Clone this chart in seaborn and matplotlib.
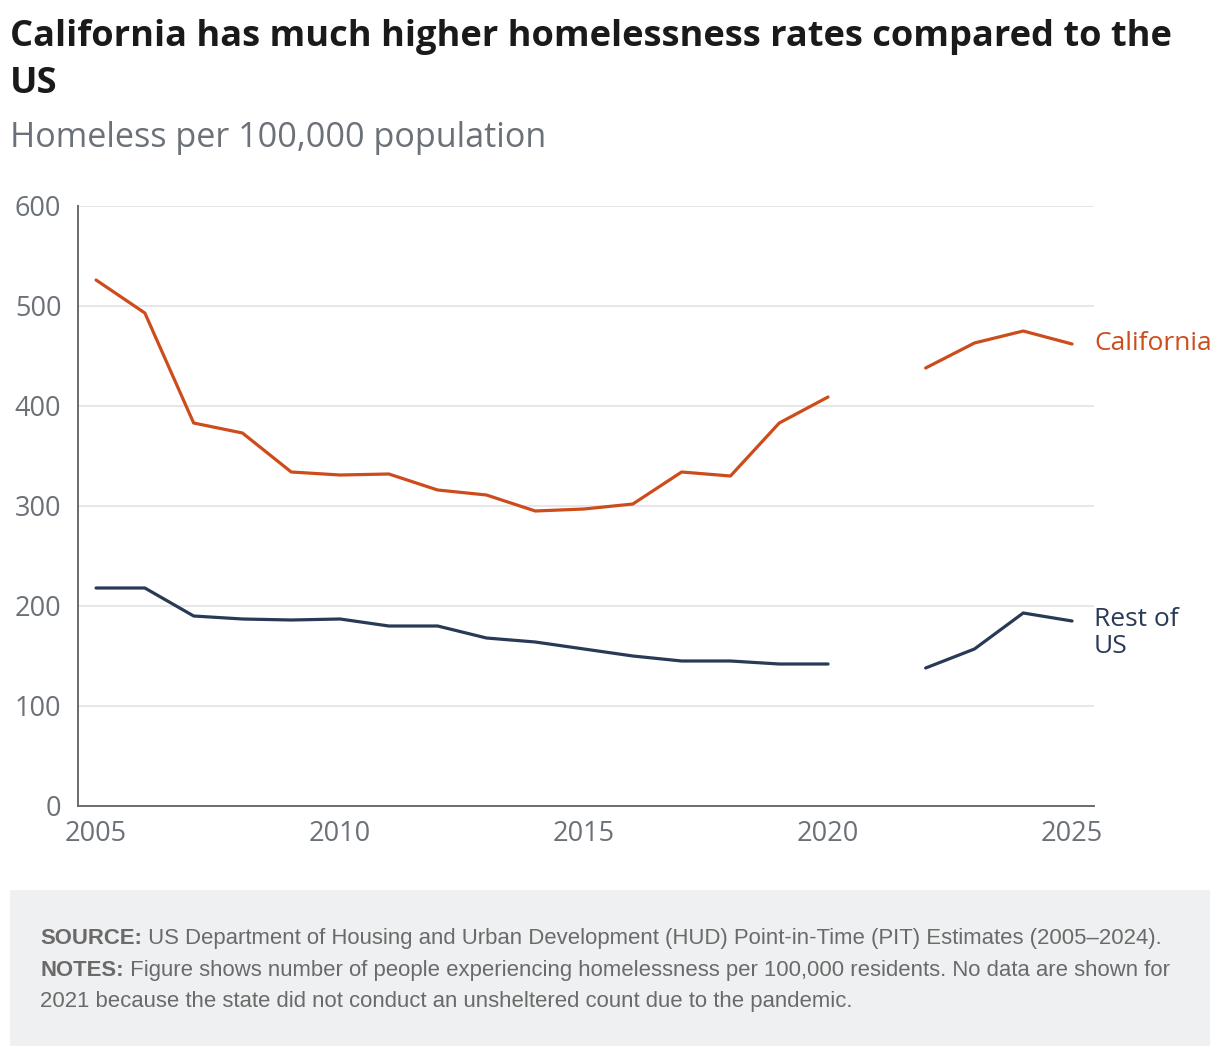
import matplotlib.pyplot as plt
import numpy as np
import pandas as pd
import seaborn as sns
from matplotlib.patches import Rectangle

# Data (no data for 2021)
years_before = [2005, 2006, 2007, 2008, 2009, 2010, 2011, 2012, 2013, 2014,
                2015, 2016, 2017, 2018, 2019, 2020]
years_after = [2022, 2023, 2024, 2025]

california_before = [526, 493, 383, 373, 334, 331, 332, 316, 311, 295,
                     297, 302, 334, 330, 383, 409]
california_after = [438, 463, 475, 462]

rest_before = [218, 218, 190, 187, 186, 187, 180, 180, 168, 164,
               157, 150, 145, 145, 142, 142]
rest_after = [138, 157, 193, 185]

x_ticks = [2005, 2010, 2015, 2020, 2025]
y_ticks = [0, 100, 200, 300, 400, 500, 600]

colors = {'California': '#cc4c1c', 'Rest of US': '#283a55'}
text_gray = '#6b7178'

# Long table, with a segment id so the 2021 gap stays open
frames = []
for name, before, after in [('California', california_before, california_after),
                            ('Rest of US', rest_before, rest_after)]:
    frames.append(pd.DataFrame({'year': years_before, 'value': before,
                                'series': name, 'segment': 'a'}))
    frames.append(pd.DataFrame({'year': years_after, 'value': after,
                                'series': name, 'segment': 'b'}))
df = pd.concat(frames, ignore_index=True)

sns.set_theme(style='white')
plt.rcParams['font.family'] = ['Open Sans', 'DejaVu Sans']

W, H = 1220, 1056
fig = plt.figure(figsize=(W / 100, H / 100), dpi=100)
ax = fig.add_axes([78 / W, 1 - 806 / H, (1094 - 78) / W, 600 / H])

sns.lineplot(data=df, x='year', y='value', hue='series', units='segment',
             estimator=None, palette=colors, linewidth=2.3, legend=False, ax=ax)

ax.set_xlim(2004.63, 2025.45)
ax.set_ylim(0, 600)
ax.set_xticks(x_ticks)
ax.set_yticks(y_ticks)
ax.set_xlabel('')
ax.set_ylabel('')
ax.tick_params(axis='both', length=0, labelsize=19.5, labelcolor=text_gray)
ax.tick_params(axis='y', pad=12)
ax.tick_params(axis='x', pad=10)

# Horizontal grid only
ax.yaxis.grid(True, color='#e3e3e3', linewidth=1.2)
ax.xaxis.grid(False)
ax.set_axisbelow(True)
for side in ['top', 'right']:
    ax.spines[side].set_visible(False)
for side in ['left', 'bottom']:
    ax.spines[side].set_color('#6b6b6b')
    ax.spines[side].set_linewidth(1.4)
    ax.spines[side].set_zorder(3)

# Direct labels at the line ends
ax.text(1.0, 462, 'California', transform=ax.get_yaxis_transform(),
        color=colors['California'], fontsize=19, va='center', ha='left')
ax.text(1.0, 173, 'Rest of\nUS', transform=ax.get_yaxis_transform(),
        color=colors['Rest of US'], fontsize=19, va='center', ha='left',
        linespacing=1.08)

# Title and subtitle
title_kw = dict(fontsize=26.1, fontweight='bold', color='#1a1a1a', ha='left', va='baseline')
fig.text(10 / W, 1 - 46 / H,
         'California has much higher homelessness rates compared to the', **title_kw)
fig.text(10 / W, 1 - 93 / H, 'US', **title_kw)
fig.text(10 / W, 1 - 147 / H, 'Homeless per 100,000 population',
         fontsize=24.6, color=text_gray, ha='left', va='baseline')

# Footer box with source and notes
fig.patches.append(Rectangle((10 / W, 1 - 1046 / H), 1200 / W, 156 / H,
                             transform=fig.transFigure, facecolor='#eff0f1',
                             edgecolor='none', zorder=0))
foot = dict(fontsize=15.9, color='#6a6a6a', ha='left', va='baseline',
            family=['Liberation Sans', 'DejaVu Sans'])
lines = [
    (944, 'SOURCE:', ' US Department of Housing and Urban Development (HUD) Point-in-Time (PIT) Estimates (2005–2024).'),
    (976, 'NOTES:', ' Figure shows number of people experiencing homelessness per 100,000 residents. No data are shown for'),
    (1007, '', '2021 because the state did not conduct an unsheltered count due to the pandemic.'),
]
renderer = fig.canvas.get_renderer()
for y, bold, rest in lines:
    x = 40 / W
    if bold:
        t = fig.text(x, 1 - y / H, bold, fontweight='bold', **foot)
        bb = t.get_window_extent(renderer=renderer)
        x = bb.x1 / fig.bbox.width
    fig.text(x, 1 - y / H, rest, **foot)

fig.savefig('out.png', dpi=100)
